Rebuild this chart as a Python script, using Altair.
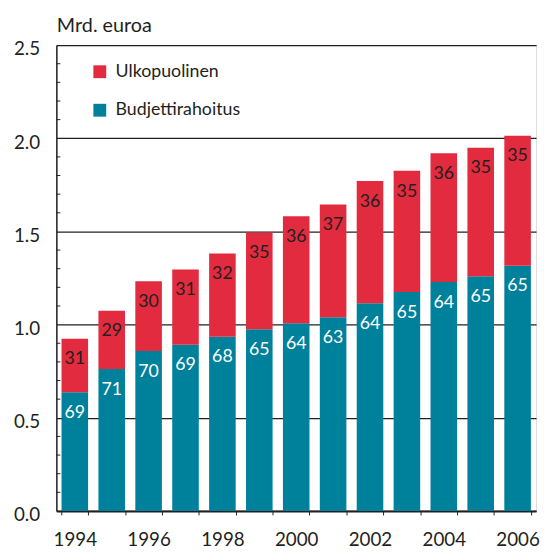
import altair as alt
import pandas as pd

years = ["1994", "1995", "1996", "1997", "1998", "1999", "2000",
         "2001", "2002", "2003", "2004", "2005", "2006"]
budjetti = [0.637, 0.762, 0.859, 0.892, 0.935, 0.975, 1.007,
            1.039, 1.114, 1.175, 1.229, 1.259, 1.316]
ulko = [0.287, 0.312, 0.374, 0.404, 0.446, 0.519, 0.575,
        0.605, 0.657, 0.650, 0.690, 0.690, 0.698]
budjetti_pct = [69, 71, 70, 69, 68, 65, 64, 63, 64, 65, 64, 65, 65]
ulko_pct = [31, 29, 30, 31, 32, 35, 36, 37, 36, 35, 36, 35, 35]
series = ["Ulkopuolinen", "Budjettirahoitus"]
colors = ["#E22B3E", "#00819B"]
major_ticks = [0.0, 0.5, 1.0, 1.5, 2.0, 2.5]
minor_ticks = [0.1, 0.2, 0.3, 0.4, 0.6, 0.7, 0.8, 0.9, 1.1, 1.2, 1.3, 1.4,
               1.6, 1.7, 1.8, 1.9, 2.1, 2.2, 2.3, 2.4]

FONT = "Lato"
DARK = "#231F20"

rows = []
for i, y in enumerate(years):
    rows.append({"year": y, "series": "Budjettirahoitus", "value": budjetti[i],
                 "pct": budjetti_pct[i], "ord": 0})
    rows.append({"year": y, "series": "Ulkopuolinen", "value": ulko[i],
                 "pct": ulko_pct[i], "ord": 1})
df = pd.DataFrame(rows)

base = alt.Chart(df).transform_stack(
    stack="value", groupby=["year"],
    sort=[alt.SortField("ord", order="ascending")],
    as_=["y0", "y1"],
)

xscale = alt.Scale(paddingInner=0.28, paddingOuter=0.14)
yscale = alt.Scale(domain=[0, 2.5], nice=False)

x_axis = alt.Axis(
    labelAngle=0, tickBand="extent", tickSize=4, tickColor=DARK,
    domainColor=DARK, domainWidth=2, labelFontSize=19, labelFont=FONT,
    labelColor=DARK, labelPadding=16, title=None,
    labelExpr="toNumber(datum.value) % 2 == 0 ? datum.label : ''")

y_axis = alt.Axis(
    values=major_ticks, format=".1f", ticks=False, grid=True,
    gridColor=DARK, gridWidth=1.2, domainColor=DARK, domainWidth=1.5,
    labelFontSize=19, labelFont=FONT, labelColor=DARK, labelPadding=17,
    labelOffset=4,
    title="Mrd. euroa", titleAngle=0, titleAlign="left",
    titleBaseline="alphabetic", titleX=0, titleY=-14, titleFontSize=20,
    titleFont=FONT, titleFontWeight="normal", titleColor=DARK)

bars = base.mark_bar().encode(
    x=alt.X("year:O", scale=xscale, axis=x_axis),
    y=alt.Y("y0:Q", scale=yscale, axis=y_axis),
    y2="y1:Q",
    color=alt.Color("series:N", scale=alt.Scale(domain=series, range=colors),
                    legend=alt.Legend(
                        title=None, orient="none", legendX=35, legendY=18,
                        symbolType="square", symbolSize=169,
                        symbolStrokeWidth=0, labelFontSize=18, labelFont=FONT,
                        labelColor=DARK, rowPadding=21, labelOffset=7,
                        padding=0)),
)

labels = base.mark_text(baseline="middle", dy=21, fontSize=18, font=FONT).encode(
    x=alt.X("year:O", scale=xscale, axis=x_axis),
    y=alt.Y("y1:Q", scale=yscale, axis=y_axis),
    text="pct:Q",
    color=alt.condition(alt.datum.series == "Budjettirahoitus",
                        alt.value("#FFFFFF"), alt.value(DARK)),
)

minor = alt.Chart(pd.DataFrame({"v": minor_ticks})).mark_rule(
    color=DARK, strokeWidth=1).encode(
    y=alt.Y("v:Q", scale=yscale, axis=y_axis),
    x=alt.value(0), x2=alt.value(4),
)

chart = alt.layer(bars, labels, minor).properties(
    width=486, height=472,
    autosize=alt.AutoSizeParams(type="none"),
    padding={"left": 49, "top": 34, "right": 4, "bottom": 37},
).configure_view(strokeOpacity=0, strokeWidth=0).configure(background="white")

chart.save("out.html", embed_options={"renderer": "svg", "actions": False})
